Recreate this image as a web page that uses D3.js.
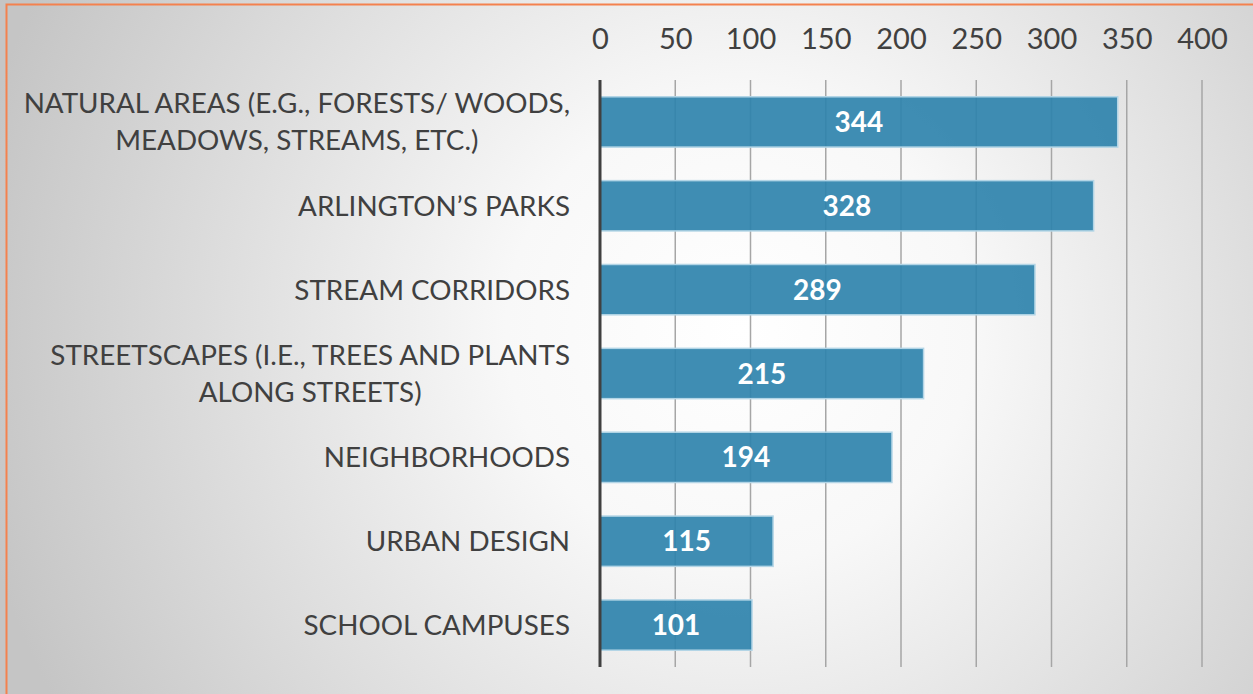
<!DOCTYPE html>
<html>
<head>
<meta charset="utf-8">
<script src="https://cdn.jsdelivr.net/npm/d3@7"></script>
<style>
  body { margin: 0; background: #fff; }
  svg { display: block; }
</style>
</head>
<body>
<script>
const W = 1253, H = 694

// category labels (line breaks as in the chart)
const categories = [
    ["NATURAL AREAS (E.G., FORESTS/ WOODS,", "MEADOWS, STREAMS, ETC.)"],
    ["ARLINGTON\u2019S PARKS"],
    ["STREAM CORRIDORS"],
    ["STREETSCAPES (I.E., TREES AND PLANTS", "ALONG STREETS)"],
    ["NEIGHBORHOODS"],
    ["URBAN DESIGN"],
    ["SCHOOL CAMPUSES"]
]
const values = [344, 328, 289, 215, 194, 115, 101]
const tickValues = [0, 50, 100, 150, 200, 250, 300, 350, 400]

const rows = categories.map((c, i) => ({ lines: c, key: c.join(' '), value: values[i] }))

const svg = d3.select('body').append('svg')
    .attr('width', W)
    .attr('height', H)

// background gradient
const defs = svg.append('defs')
const grad = defs.append('radialGradient')
    .attr('id', 'bg')
    .attr('gradientUnits', 'userSpaceOnUse')
    .attr('cx', 740).attr('cy', 330).attr('r', 780)
grad.append('stop').attr('offset', 0).attr('stop-color', '#ffffff')
grad.append('stop').attr('offset', 0.3).attr('stop-color', '#f8f8f8')
grad.append('stop').attr('offset', 1).attr('stop-color', '#c5c5c5')

svg.append('rect')
    .attr('x', 0).attr('y', 0)
    .attr('width', W).attr('height', H)
    .attr('fill', 'url(#bg)')

// orange frame (only top and left visible)
svg.append('path')
    .attr('d', 'M6.5,' + H + 'V4.5H' + W)
    .attr('fill', 'none')
    .attr('stroke', '#f4814e')
    .attr('stroke-width', 2)

const xScale = d3.scaleLinear()
    .domain([0, 400])
    .range([600, 1202])

const yScale = d3.scaleBand()
    .domain(rows.map(d => d.key))
    .range([80, 667])
    .paddingInner(0.4)
    .paddingOuter(0.2)

// gridlines
svg.append('g')
    .selectAll('line')
    .data(tickValues.slice(1))
    .enter()
    .append('line')
    .attr('x1', d => xScale(d))
    .attr('x2', d => xScale(d))
    .attr('y1', 80)
    .attr('y2', 667)
    .attr('stroke', '#a6a6a6')
    .attr('stroke-width', 1.5)

// top axis labels
const xAxis = svg.append('g')
    .attr('transform', 'translate(0,49)')
    .call(d3.axisTop(xScale).tickValues(tickValues).tickSize(0).tickPadding(0))
xAxis.select('.domain').remove()
xAxis.selectAll('text')
    .attr('fill', '#404040')
    .style('font-family', 'Lato, "Open Sans", sans-serif')
    .style('font-size', '29px')

// bars
svg.selectAll('.bar')
    .data(rows)
    .enter()
    .append('rect')
    .attr('class', 'bar')
    .attr('x', xScale(0))
    .attr('y', d => yScale(d.key))
    .attr('width', d => xScale(d.value) - xScale(0))
    .attr('height', yScale.bandwidth())
    .attr('fill', '#2f83ad')
    .attr('fill-opacity', 0.92)
    .attr('stroke', '#b3d5e6')
    .attr('stroke-width', 1.5)

// value labels
svg.selectAll('.val')
    .data(rows)
    .enter()
    .append('text')
    .attr('class', 'val')
    .attr('x', d => (xScale(0) + xScale(d.value)) / 2)
    .attr('y', d => yScale(d.key) + yScale.bandwidth() / 2)
    .attr('dy', '0.36em')
    .attr('text-anchor', 'middle')
    .attr('fill', '#ffffff')
    .style('font-family', 'Lato, "Open Sans", sans-serif')
    .style('font-weight', 'bold')
    .style('font-size', '28px')
    .text(d => d.value)

// vertical axis line
svg.append('line')
    .attr('x1', xScale(0)).attr('x2', xScale(0))
    .attr('y1', 80).attr('y2', 667)
    .attr('stroke', '#404040')
    .attr('stroke-width', 3)

// category labels: block right aligned at 570, lines centered within block
const lineH = 37
const labels = svg.selectAll('.cat')
    .data(rows)
    .enter()
    .append('text')
    .attr('class', 'cat')
    .attr('fill', '#404040')
    .attr('text-anchor', 'middle')
    .style('font-family', 'Lato, "Open Sans", sans-serif')
    .style('font-size', '27.8px')

labels.each(function (d) {
    const t = d3.select(this)
    const cy = yScale(d.key) + yScale.bandwidth() / 2
    d.lines.forEach((ln, i) => {
        t.append('tspan')
            .attr('y', cy + (i - (d.lines.length - 1) / 2) * lineH)
            .attr('dy', '0.36em')
            .text(ln)
    })
    // width of the widest line, then center lines inside that block
    let w = 0
    t.selectAll('tspan').each(function () { w = Math.max(w, this.getComputedTextLength()) })
    t.selectAll('tspan').attr('x', 570 - w / 2)
})
</script>
</body>
</html>
